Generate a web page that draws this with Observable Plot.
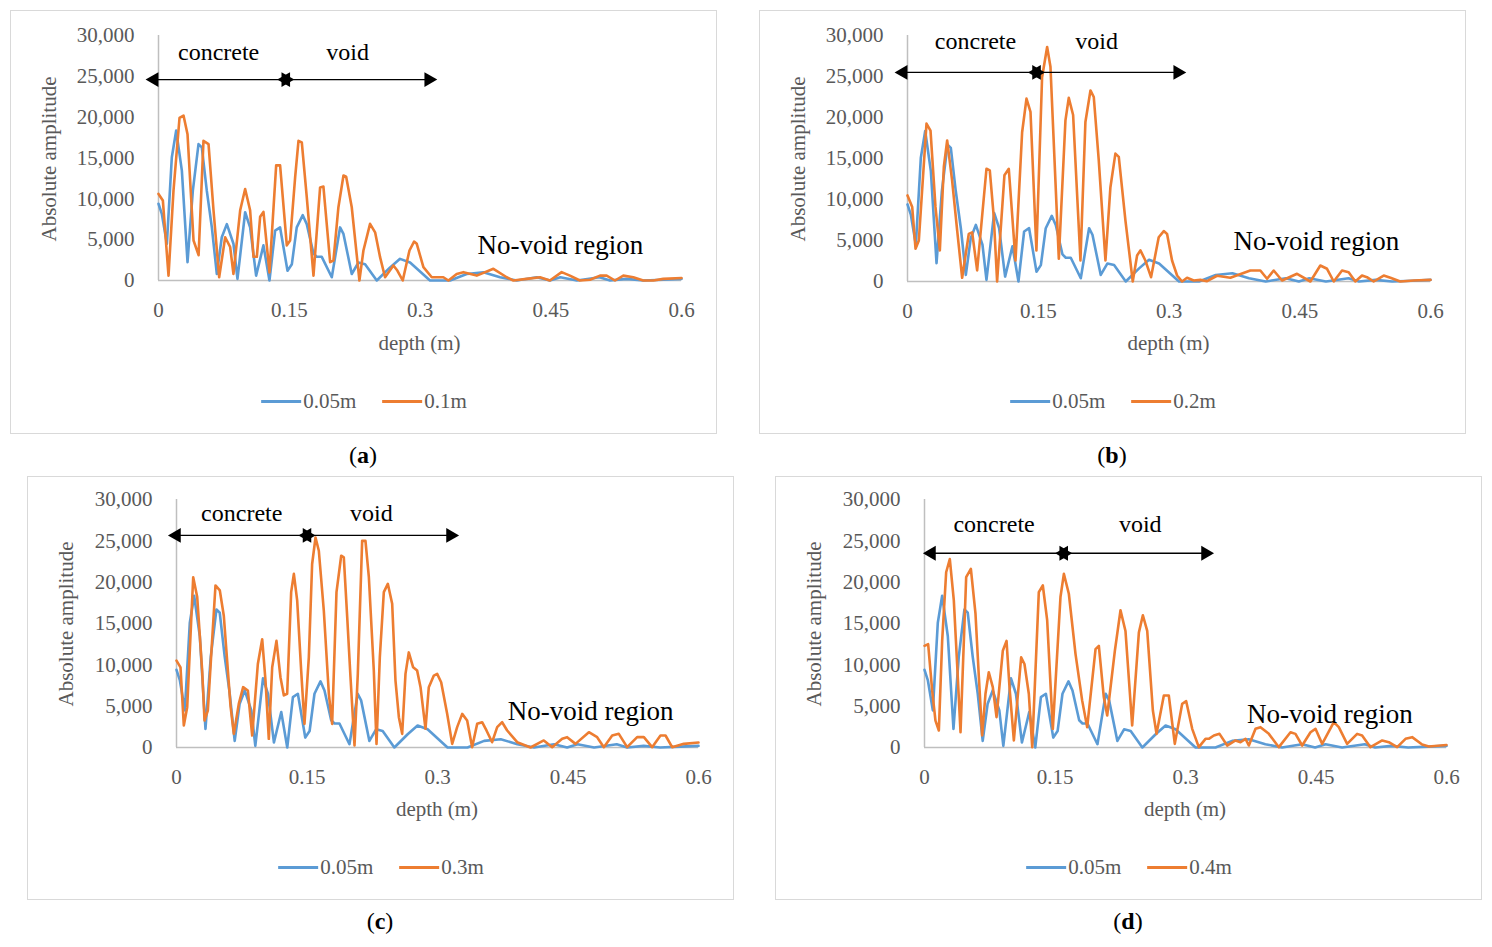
<!DOCTYPE html>
<html><head><meta charset="utf-8">
<script src="https://cdn.jsdelivr.net/npm/d3@7"></script>
<script src="https://cdn.jsdelivr.net/npm/@observablehq/plot@0.6"></script>
<style>
body{margin:0;background:#fff;font-family:"Liberation Serif",serif;}
.box{position:absolute;width:705px;height:422px;border:1px solid #d9d9d9;background:#fff;}
.box svg{position:absolute;left:0;top:0;}
.lab{position:absolute;color:#595959;font-size:21px;white-space:nowrap;}
.cap{position:absolute;font-size:24px;color:#000;transform:translateX(-50%);}
.leg{position:absolute;font-size:21px;color:#595959;transform:translateX(-50%);white-space:nowrap;display:flex;align-items:center;}
.sw{display:inline-block;width:40px;height:3px;margin:0 2px 0 0;}
</style></head><body>
<script>
const ticksX = [0, 0.15, 0.3, 0.45, 0.6];
const ticksY = [0, 5000, 10000, 15000, 20000, 25000, 30000];

const blueDepth = [0,.0038,.0096,.0153,.0203,.0268,.0333,.0394,.0459,.0497,.0554,.0612,.0669,.0726,.0784,.086,.0906,.0994,.1051,.112,.1204,.1273,.1338,.1395,.148,.153,.1586,.1655,.1701,.1778,.1816,.1873,.1988,.2083,.2122,.2217,.2294,.237,.2504,.2657,.2771,.2886,.3115,.3345,.3536,.3727,.3918,.411,.434,.449,.461,.48,.506,.518,.537,.556,.579,.6];
const blueAmp = [9400,8160,4490,15100,18360,13460,2240,11000,16700,16300,11000,6500,800,5300,6900,4500,200,8360,6500,600,4300,0,6100,6500,1200,2000,6500,8000,6900,3300,2900,2900,400,6500,5700,800,2200,2000,0,1600,2650,2200,0,0,800,1000,400,0,400,0,400,0,400,0,200,0,100,200];

const a_depth = [0,.005,.0115,.0172,.0241,.0287,.0333,.0402,.046,.0516,.0574,.0631,.0696,.0765,.0822,.086,.0937,.0994,.1051,.109,.1128,.1166,.1204,.1273,.135,.1395,.1472,.151,.1568,.1606,.1644,.1701,.1778,.1854,.1892,.1969,.2007,.2064,.2122,.2153,.2217,.2305,.2351,.2427,.2485,.2542,.2599,.2695,.274,.2802,.2879,.2932,.2963,.3039,.3135,.3268,.3326,.3421,.3498,.3651,.3842,.3995,.4071,.4224,.4377,.449,.4625,.472,.4835,.495,.5065,.5141,.5237,.5333,.5447,.5562,.5677,.5791,.6];
const a_amp = [10600,9800,600,11000,19900,20200,17900,4900,3100,17100,16700,8600,400,5300,4100,800,8600,11200,8600,2900,2900,7800,8400,1000,14100,14100,4300,4900,12700,17100,16900,10200,600,11400,11500,2250,2450,8970,12850,12700,8970,0,3670,6940,5900,2860,400,1840,1220,0,3670,4770,4490,1630,400,400,0,800,1020,600,1430,400,0,200,400,0,1020,600,0,100,600,600,0,600,400,0,0,200,300];

const b_depth = [0,.0054,.0092,.013,.0218,.0264,.0321,.0371,.0417,.0455,.0512,.057,.0627,.0703,.0742,.0799,.0906,.0944,.099,.1028,.1112,.1162,.1239,.1315,.1365,.1411,.1479,.1544,.1602,.164,.1736,.1812,.185,.19,.1984,.2041,.2099,.2137,.2194,.2271,.2328,.2385,.2424,.25,.2584,.2634,.2672,.2729,.2794,.2882,.294,.2978,.3035,.3093,.315,.3207,.3284,.336,.3437,.3551,.3704,.3933,.4048,.4125,.4201,.4297,.4469,.4622,.4736,.4813,.489,.4985,.5061,.5138,.5214,.5271,.5348,.5463,.554,.5654,.5807,.6];
const b_amp = [10500,9080,4000,5000,19250,18400,9100,3800,14000,17200,12300,6200,450,5800,6000,1350,13750,13550,7850,0,12950,13750,2560,18200,22300,20700,3800,24900,28600,26200,2770,19650,22400,20300,2560,19450,23300,22500,14800,2560,11500,15600,15200,7450,0,3170,3800,2560,530,5400,6150,5800,2560,730,0,450,120,200,40,700,450,1340,1340,330,1340,120,940,0,1950,1550,0,1340,1140,0,730,530,0,730,450,0,120,200];

const c_depth = [0,.0046,.0084,.0123,.0192,.0238,.0295,.0322,.036,.0448,.0498,.0544,.0582,.0621,.0659,.0716,.0766,.082,.087,.0935,.0985,.1023,.1061,.11,.1149,.1195,.1234,.1272,.1318,.1349,.1387,.1433,.1471,.1521,.1559,.1598,.1636,.1693,.1751,.1789,.1839,.1893,.1923,.1962,.2,.2046,.2084,.2134,.2172,.2211,.2268,.2299,.2337,.2383,.2429,.2479,.2517,.2556,.2594,.2632,.267,.272,.2766,.2805,.2862,.29,.2958,.2996,.3042,.3111,.3169,.3226,.3284,.3341,.3398,.3456,.3513,.3563,.3628,.3686,.3743,.3801,.3916,.4069,.4184,.4222,.4318,.4433,.449,.4586,.474,.4835,.4912,.5008,.5084,.518,.5295,.5372,.5467,.5563,.5621,.5697,.5831,.6];
const c_amp = [10500,9700,2660,4880,20600,18200,9300,3260,4470,19600,19000,15900,10500,5000,1650,5280,7300,6900,1450,10100,13100,8100,1050,9700,12900,8500,6300,6500,18800,21000,17800,9300,2860,10900,22200,25400,23800,16600,6500,2860,18800,23200,23000,15800,8500,240,8900,25000,25000,20600,9300,440,10900,18800,19800,17400,8100,3670,1650,8900,11500,9700,9300,7300,2260,7300,8700,8900,7900,4070,440,2460,4070,3260,40,2860,3060,2060,640,2460,3060,2060,640,0,640,850,40,1050,1250,440,1850,1250,40,1450,1650,40,1250,1250,40,1450,1450,40,440,600];

const d_depth = [0,.0042,.0088,.0126,.0165,.0203,.0249,.0291,.0337,.0375,.0414,.0479,.0533,.0586,.0625,.0663,.0701,.0739,.0785,.0828,.09,.0943,.0977,.1027,.1111,.1149,.1199,.1238,.1314,.136,.141,.1475,.1563,.1602,.1659,.1736,.1812,.187,.1966,.2004,.2061,.21,.2188,.2253,.231,.2387,.2464,.251,.256,.2625,.2667,.2751,.2808,.2877,.2962,.3008,.3077,.3153,.323,.3268,.3326,.3391,.3479,.3575,.3632,.369,.3728,.3805,.3862,.3958,.4073,.4207,.4264,.4341,.4437,.4494,.4571,.4705,.4762,.4858,.4973,.503,.5126,.5261,.5337,.5433,.5529,.5605,.572,.5797,.6];
const d_amp = [12300,12500,6900,3260,2060,12900,21200,22800,17800,10100,1850,20600,21600,16200,8500,1450,6500,9100,7300,3670,11700,12900,7300,850,10900,10100,6500,40,18800,19600,15400,2260,18200,21000,18600,11300,5700,2460,11900,12300,6100,3870,11700,16600,14100,2660,13900,16000,14100,4470,1650,6290,6290,440,5280,5600,2260,40,1050,1050,1450,1650,240,850,640,1050,240,2260,2460,1650,40,1850,1650,240,1850,2260,440,3060,2460,440,1650,1450,40,850,640,40,1050,1250,360,120,300];

const seriesNames = ["0.05m", "0.1m", "0.2m", "0.3m", "0.4m"];
const panelLetters = ["a", "b", "c", "d"];
const blue = "#5B9BD5", orange = "#ED7D31";

const panels = [
  {left:10, top:10, ml:148, mr:36, mt:25, mb:154, name:seriesNames[1], depth:a_depth, amp:a_amp,
   arrowY:24600, arr:[-0.005,0.146,0.31], textY:28000, tx:[0.069,0.217], nv:[0.461,3200]},
  {left:759, top:10, ml:148, mr:36, mt:25, mb:153, name:seriesNames[2], depth:b_depth, amp:b_amp,
   arrowY:25500, arr:[-0.005,0.148,0.31], textY:29300, tx:[0.078,0.217], nv:[0.469,3900]},
  {left:27, top:476, ml:149, mr:36, mt:23, mb:153, name:seriesNames[3], depth:c_depth, amp:c_amp,
   arrowY:25650, arr:[0,0.15,0.315], textY:28300, tx:[0.075,0.224], nv:[0.476,3300]},
  {left:775, top:476, ml:149, mr:36, mt:23, mb:153, name:seriesNames[4], depth:d_depth, amp:d_amp,
   arrowY:23500, arr:[0.008,0.16,0.323], textY:27000, tx:[0.08,0.248], nv:[0.466,3000]}
];

panels.forEach((p, i) => {
  const box = document.createElement("div");
  box.className = "box";
  box.style.left = p.left + "px"; box.style.top = p.top + "px";
  document.body.appendChild(box);
  const blueData = blueDepth.map((d, j) => ({d, v: blueAmp[j]}));
  const orData = p.depth.map((d, j) => ({d, v: p.amp[j]}));
  const [a0, a1, a2] = p.arr;
  const heads = [
    {x:a0, r:-90},{x:a1, r:90},{x:a1, r:-90},{x:a2, r:90}
  ];
  const svg = Plot.plot({
    width: 705, height: 422,
    marginLeft: p.ml - 1, marginRight: p.mr - 1, marginTop: p.mt - 1, marginBottom: p.mb - 1,
    style: {fontFamily: "Liberation Serif, serif", fontSize: "21px", color: "#595959", background: "transparent", overflow: "visible"},
    x: {domain: [0, 0.6], ticks: ticksX, tickFormat: d => String(d), label: null, tickSize: 0, tickPadding: 22},
    y: {domain: [0, 30000], ticks: ticksY, tickFormat: d3.format(","), label: null, tickSize: 0, tickPadding: 24},
    marks: [
      Plot.ruleX([0], {stroke: "#bfbfbf", strokeWidth: 1.5}),
      Plot.ruleY([0], {stroke: "#bfbfbf", strokeWidth: 1.5}),
      Plot.line(blueData, {x: "d", y: "v", stroke: blue, strokeWidth: 2.6}),
      Plot.line(orData, {x: "d", y: "v", stroke: orange, strokeWidth: 2.6}),
      Plot.link([{x1:a0, x2:a2}], {x1:"x1", x2:"x2", y1: () => p.arrowY, y2: () => p.arrowY, stroke: "#000", strokeWidth: 1.3}),
      Plot.dot(heads, {x: "x", y: () => p.arrowY, symbol: "triangle", rotate: "r", r: 5.5, fill: "#000", stroke: "none",
        dx: 0}),
      Plot.text([{x: p.tx[0], t: "concrete"}, {x: p.tx[1], t: "void"}], {x: "x", y: () => p.textY, text: "t", fontSize: 24, fill: "#000"}),
      Plot.text([{t: "No-void region"}], {x: () => p.nv[0], y: () => p.nv[1], text: "t", fontSize: 27, fill: "#000", lineAnchor: "bottom"})
    ]
  });
  box.appendChild(svg);
  const yl = document.createElement("div");
  yl.className = "lab"; yl.textContent = "Absolute amplitude";
  yl.style.left = "38px"; yl.style.top = (p.mt + (270 - p.mt) / 2) + "px";
  yl.style.transform = "translate(-50%,-50%) rotate(-90deg)";
  box.appendChild(yl);
  const xl = document.createElement("div");
  xl.className = "lab"; xl.textContent = "depth (m)";
  xl.style.left = (p.ml + (705 - p.ml - p.mr) / 2) + "px"; xl.style.top = "320px";
  xl.style.transform = "translateX(-50%)";
  box.appendChild(xl);
  const lg = document.createElement("div");
  lg.className = "leg";
  lg.style.left = "353px"; lg.style.top = "378px";
  lg.innerHTML = `<span class="sw" style="background:${blue}"></span>${seriesNames[0]}<span style="width:26px"></span><span class="sw" style="background:${orange}"></span>${p.name}`;
  box.appendChild(lg);
  const cap = document.createElement("div");
  cap.className = "cap";
  cap.innerHTML = `(<b>${panelLetters[i]}</b>)`;
  cap.style.left = (p.left + 353) + "px";
  cap.style.top = (p.top + 432) + "px";
  document.body.appendChild(cap);
});
</script>
</body></html>
